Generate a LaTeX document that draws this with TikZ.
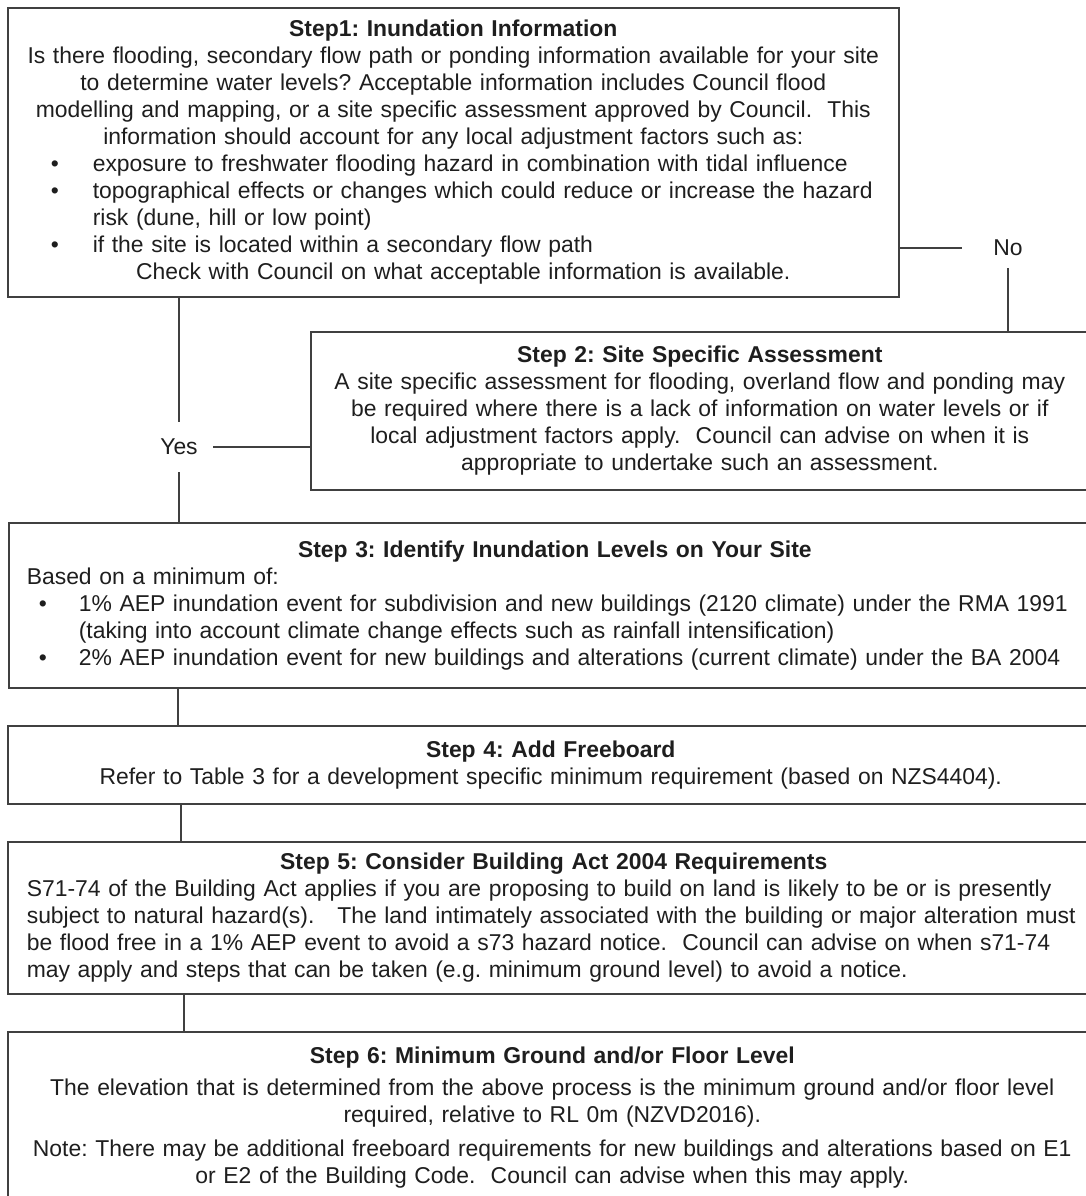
\documentclass[tikz,border=0pt]{standalone}
\usepackage{fontspec}
\setmainfont{Liberation Sans}
\usetikzlibrary{positioning}
\definecolor{LineGrey}{HTML}{404040}
\definecolor{TextGrey}{HTML}{1E1E1E}
\setlength{\parindent}{0pt}
\frenchspacing
% bullet line: #1 text indent, #2 gap after bullet, #3 text
\newcommand{\bul}[3]{{\par\raggedright\leftskip=#1\parfillskip=0pt plus 1fil\noindent\llap{\textbullet\hspace{#2}}#3\par}}
\newcommand{\lefttext}[2]{{\par\raggedright\leftskip=#1\parfillskip=0pt plus 1fil #2\par}}

\begin{document}
\begin{tikzpicture}[x=1pt, y=-1pt, font=\fontsize{22.9}{27}\selectfont, text=TextGrey,
  stepbox/.style={draw=LineGrey, line width=1.6pt, anchor=north west, inner xsep=0pt, inner ysep=0pt, align=center},
  link/.style={draw=LineGrey, line width=1.4pt},
  answer/.style={inner xsep=15pt, inner ysep=17pt}]
  \useasboundingbox (0,0) rectangle (1086,1196);

  \node[stepbox, text width=891pt, minimum height=289pt] (s1) at (7,7) {%
    \textbf{Step1: Inundation Information}\\
    Is there flooding, secondary flow path or ponding information available for your site\\
    to determine water levels? Acceptable information includes Council flood\\
    modelling and mapping, or a site specific assessment approved by Council.\ \ This\\
    information should account for any local adjustment factors such as:
    \bul{85pt}{34pt}{exposure to freshwater flooding hazard in combination with tidal influence}
    \bul{85pt}{34pt}{topographical effects or changes which could reduce or increase the hazard\\ risk (dune, hill or low point)}
    \bul{85pt}{34pt}{if the site is located within a secondary flow path}
    \hspace*{20pt}Check with Council on what acceptable information is available.};

  \node[stepbox, text width=778pt, minimum height=158pt] (s2) at (310,331) {%
    \textbf{Step 2: Site Specific Assessment}\\
    A site specific assessment for flooding, overland flow and ponding may\\
    be required where there is a lack of information on water levels or if\\
    local adjustment factors apply.\ \ Council can advise on when it is\\
    appropriate to undertake such an assessment.};

  \node[stepbox, text width=1092pt, minimum height=165pt] (s3) at (8,522) {%
    \textbf{Step 3: Identify Inundation Levels on Your Site}
    \lefttext{18pt}{Based on a minimum of:}
    \bul{70pt}{32pt}{1\% AEP inundation event for subdivision and new buildings (2120 climate) under the RMA 1991\\ (taking into account climate change effects such as rainfall intensification)}
    \bul{70pt}{32pt}{2\% AEP inundation event for new buildings and alterations (current climate) under the BA 2004}};

  \node[stepbox, text width=1086pt, minimum height=78pt] (s4) at (7,725) {%
    \textbf{Step 4: Add Freeboard}\\
    Refer to Table 3 for a development specific minimum requirement (based on NZS4404).};

  \node[stepbox, text width=1092pt, minimum height=152pt] (s5) at (7,841) {%
    \textbf{Step 5: Consider Building Act 2004 Requirements}
    \lefttext{19pt}{S71-74 of the Building Act applies if you are proposing to build on land is likely to be or is presently\\
    subject to natural hazard(s).\ \ \ The land intimately associated with the building or major alteration must\\
    be flood free in a 1\% AEP event to avoid a s73 hazard notice.\ \ Council can advise on when s71-74\\
    may apply and steps that can be taken (e.g. minimum ground level) to avoid a notice.}};

  \node[stepbox, text width=1089pt, minimum height=172pt] (s6) at (7,1031) {%
    \textbf{Step 6: Minimum Ground and/or Floor Level}\\[5pt]
    The elevation that is determined from the above process is the minimum ground and/or floor level\\
    required, relative to RL 0m (NZVD2016).\\[7pt]
    Note: There may be additional freeboard requirements for new buildings and alterations based on E1\\
    or E2 of the Building Code.\ \ Council can advise when this may apply.};

  \node[answer] (yes) at (179,447) {Yes};
  \node[answer, inner xsep=31pt, inner ysep=12pt] (no) at (1008,248) {No};

  \draw[link] (s1.south -| yes) -- (yes.north);
  \draw[link] (yes.south) -- (yes.south |- s3.north);
  \draw[link] (s2.west |- yes) -- (yes.east);
  \draw[link] (s1.east |- no) -- (no.west);
  \draw[link] (no.south) -- (no.south |- s2.north);
  \foreach \a/\b/\dx in {s3/s4/170, s4/s5/174, s5/s6/177}
    \draw[link] ([xshift=\dx pt]\a.south west) -- ([xshift=\dx pt]\a.south west |- \b.north);
\end{tikzpicture}
\end{document}
